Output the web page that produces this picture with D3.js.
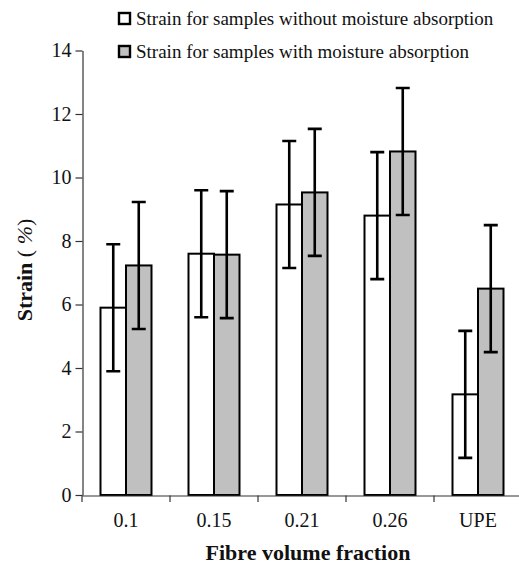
<!DOCTYPE html>
<html>
<head>
<meta charset="utf-8">
<script src="https://cdn.jsdelivr.net/npm/d3@7"></script>
<style>
  body { margin: 0; background: white; }
  svg text { font-family: "Liberation Serif", "Times New Roman", serif; fill: #111; }
</style>
</head>
<body>
<div id="chart"></div>
<script>
// fibre volume fraction categories
const categories = ["0.1", "0.15", "0.21", "0.26", "UPE"];
const seriesNames = ["Strain for samples without moisture absorption",
                     "Strain for samples with moisture absorption"];
const strainDry = [5.9, 7.6, 9.15, 8.8, 3.17];
const strainWet = [7.23, 7.57, 9.53, 10.82, 6.5];
const errDry = [2.0, 2.0, 2.0, 2.0, 2.0];
const errWet = [2.0, 2.0, 2.0, 2.0, 2.0];
const yTicks = [0, 2, 4, 6, 8, 10, 12, 14];
const fills = ["#ffffff", "#c0c0c0"];

let W = 519, H = 565;

let svg = d3.select("#chart").append("svg")
            .attr("width", W)
            .attr("height", H);

let x0 = d3.scaleBand()
           .domain(categories)
           .range([82, 522])
           .paddingInner(0)
           .paddingOuter(0);

let x1 = d3.scaleBand()
           .domain([0, 1])
           .range([18.5, 69.5]);

let y = d3.scaleLinear()
          .domain([0, 14])
          .range([495, 50.5]);

let rows = categories.map((c, i) => ({
  cat: c,
  vals: [
    {s: 0, v: strainDry[i], e: errDry[i]},
    {s: 1, v: strainWet[i], e: errWet[i]}
  ]
}));

// y axis
let yAxis = svg.append("g")
               .attr("transform", "translate(82.5,0)")
               .call(d3.axisLeft(y).tickValues(yTicks).tickSize(7).tickSizeOuter(0).tickPadding(4));
yAxis.select(".domain").attr("stroke", "#333").attr("stroke-width", 1.2);
yAxis.selectAll(".tick line").attr("stroke", "#333").attr("stroke-width", 1.2);
yAxis.selectAll("text").style("font-size", "20px").attr("fill", "#111");

// bars
let groups = svg.selectAll(".grp")
                .data(rows)
                .enter()
                .append("g")
                .attr("class", "grp")
                .attr("transform", d => `translate(${x0(d.cat)},0)`);

groups.selectAll("rect")
      .data(d => d.vals)
      .enter()
      .append("rect")
      .attr("x", d => x1(d.s))
      .attr("width", x1.bandwidth())
      .attr("y", d => y(d.v))
      .attr("height", d => y(0) - y(d.v))
      .attr("fill", d => fills[d.s])
      .attr("stroke", "#000")
      .attr("stroke-width", 2);

// error bars
let capW = 7;
groups.selectAll(".err")
      .data(d => d.vals)
      .enter()
      .append("path")
      .attr("class", "err")
      .attr("d", d => {
        let cx = x1(d.s) + x1.bandwidth() / 2;
        let t = y(d.v + d.e), b = y(d.v - d.e);
        return `M${cx},${t}V${b}M${cx - capW},${t}H${cx + capW}M${cx - capW},${b}H${cx + capW}`;
      })
      .attr("fill", "none")
      .attr("stroke", "#000")
      .attr("stroke-width", 2.6);

// x axis
let xAxis = svg.append("g")
               .attr("transform", "translate(0,495.5)")
               .call(d3.axisBottom(x0).tickSize(0).tickPadding(17));
xAxis.select(".domain").attr("stroke", "#333").attr("stroke-width", 1.2);
xAxis.selectAll("text").style("font-size", "20px").attr("fill", "#111");

// boundary ticks between categories
svg.append("g")
   .selectAll("line")
   .data(categories)
   .enter()
   .append("line")
   .attr("x1", d => x0(d))
   .attr("x2", d => x0(d))
   .attr("y1", 495.5)
   .attr("y2", 502)
   .attr("stroke", "#333")
   .attr("stroke-width", 1.2);

// axis titles
svg.append("text")
   .attr("x", 308)
   .attr("y", 560)
   .attr("text-anchor", "middle")
   .style("font-size", "22px")
   .style("font-weight", "bold")
   .text("Fibre volume fraction");

let yl = svg.append("text")
   .attr("transform", "translate(32,270) rotate(-90)")
   .attr("text-anchor", "middle")
   .style("font-size", "22px");
yl.append("tspan").style("font-weight", "bold").text("Strain ");
yl.append("tspan").text("( ");
yl.append("tspan").style("font-style", "italic").text("%");
yl.append("tspan").text(")");

// legend
let legend = svg.append("g")
                .selectAll("g")
                .data(seriesNames)
                .enter()
                .append("g")
                .attr("transform", (d, i) => `translate(119,${13 + i * 33})`);

legend.append("rect")
      .attr("width", 11)
      .attr("height", 11)
      .attr("fill", (d, i) => fills[i])
      .attr("stroke", "#000")
      .attr("stroke-width", 2.4);

legend.append("text")
      .attr("x", 17)
      .attr("y", 12)
      .style("font-size", "19px")
      .text(d => d);
</script>
</body>
</html>
